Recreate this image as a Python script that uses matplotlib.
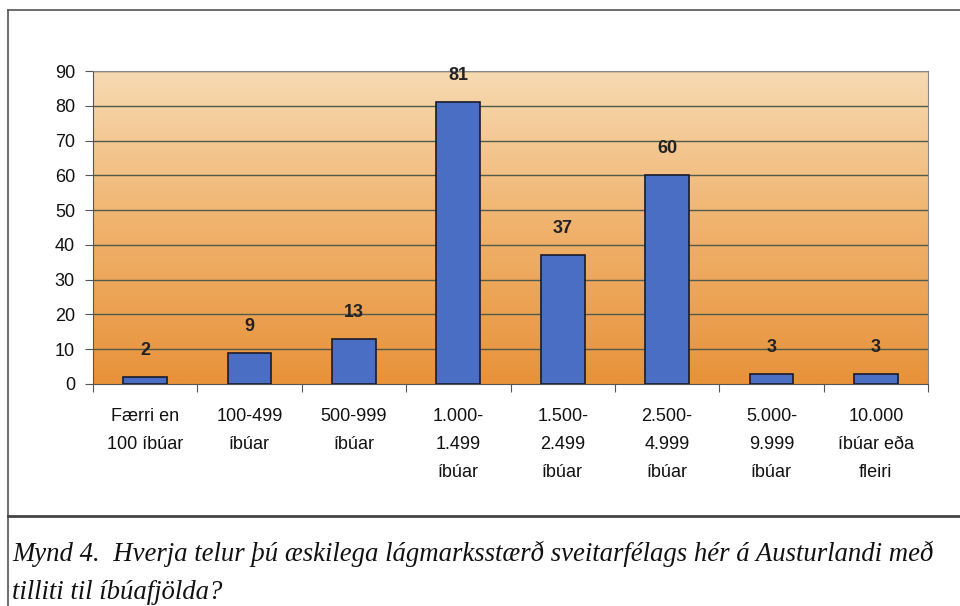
import numpy as np
import matplotlib
matplotlib.use("Agg")
import matplotlib.pyplot as plt
from matplotlib.colors import LinearSegmentedColormap
from matplotlib.lines import Line2D

categories = ["Færri en\n100 íbúar", "100-499\níbúar", "500-999\níbúar",
              "1.000-\n1.499\níbúar", "1.500-\n2.499\níbúar", "2.500-\n4.999\níbúar",
              "5.000-\n9.999\níbúar", "10.000\níbúar eða\nfleiri"]
values = [2, 9, 13, 81, 37, 60, 3, 3]
yticks = [0, 10, 20, 30, 40, 50, 60, 70, 80, 90]
caption = ("Mynd 4.  Hverja telur þú æskilega lágmarksstærð sveitarfélags hér á Austurlandi með\n"
           "tilliti til íbúafjölda?")

plt.rcParams['font.family'] = ['Liberation Sans', 'DejaVu Sans']

fig = plt.figure(figsize=(9.6, 6.06), dpi=100)
W, H = 960, 606
ax = fig.add_axes([93 / W, 1 - 384 / H, (928 - 93) / W, (384 - 71) / H])

n = len(categories)
x = np.arange(n)
ax.set_xlim(-0.5, n - 0.5)
ax.set_ylim(0, 90)

# gradient background
cmap = LinearSegmentedColormap.from_list("bg", ["#E8923A", "#F0B26C", "#F7DAB2"])
grad = np.linspace(0, 1, 256).reshape(-1, 1)
ax.imshow(grad, aspect='auto', cmap=cmap, extent=(-0.5, n - 0.5, 0, 90),
          origin='lower', zorder=0)

for t in yticks[1:]:
    ax.axhline(t, color='#4f5a4a', lw=1.0, zorder=1)

ax.bar(x, values, width=0.42, color='#4A6EC4', edgecolor='#1a1a2a', lw=1.2, zorder=3)
for xi, v in zip(x, values):
    ax.text(xi, v + 7.6, str(v), ha='center', va='center', fontsize=13,
            fontweight='bold', color='#222222', zorder=4)

ax.set_yticks(yticks)
ax.set_yticklabels([str(t) for t in yticks], fontsize=13, color='#111111')
ax.set_xticks(np.arange(n + 1) - 0.5, minor=False)
ax.set_xticklabels([])
ax.tick_params(axis='x', length=6, color='#555555', direction='out')
ax.tick_params(axis='y', length=6, color='#555555', pad=7)
for xi, lab in zip(x, categories):
    ax.text(xi, -7.0, lab, ha='center', va='top', fontsize=13, color='#111111',
            linespacing=1.82)

for s in ['top', 'right']:
    ax.spines[s].set_color('#888888')
for s in ['left', 'bottom']:
    ax.spines[s].set_color('#555555')

# outer frame
def fl(x0, y0, x1, y1, lw=1.2, c='#555555'):
    fig.add_artist(Line2D([x0 / W, x1 / W], [1 - y0 / H, 1 - y1 / H], color=c, lw=lw))

fl(8, 10, 960, 10)
fl(8, 10, 8, 606)
fl(8, 516, 960, 516, lw=2.0, c='#444444')

fig.text(12 / W, 1 - 541 / H, caption, ha='left', va='top', fontsize=19.3,
         family='Liberation Serif', style='italic', color='#111111', linespacing=1.68)

fig.savefig("out.png", dpi=100)
